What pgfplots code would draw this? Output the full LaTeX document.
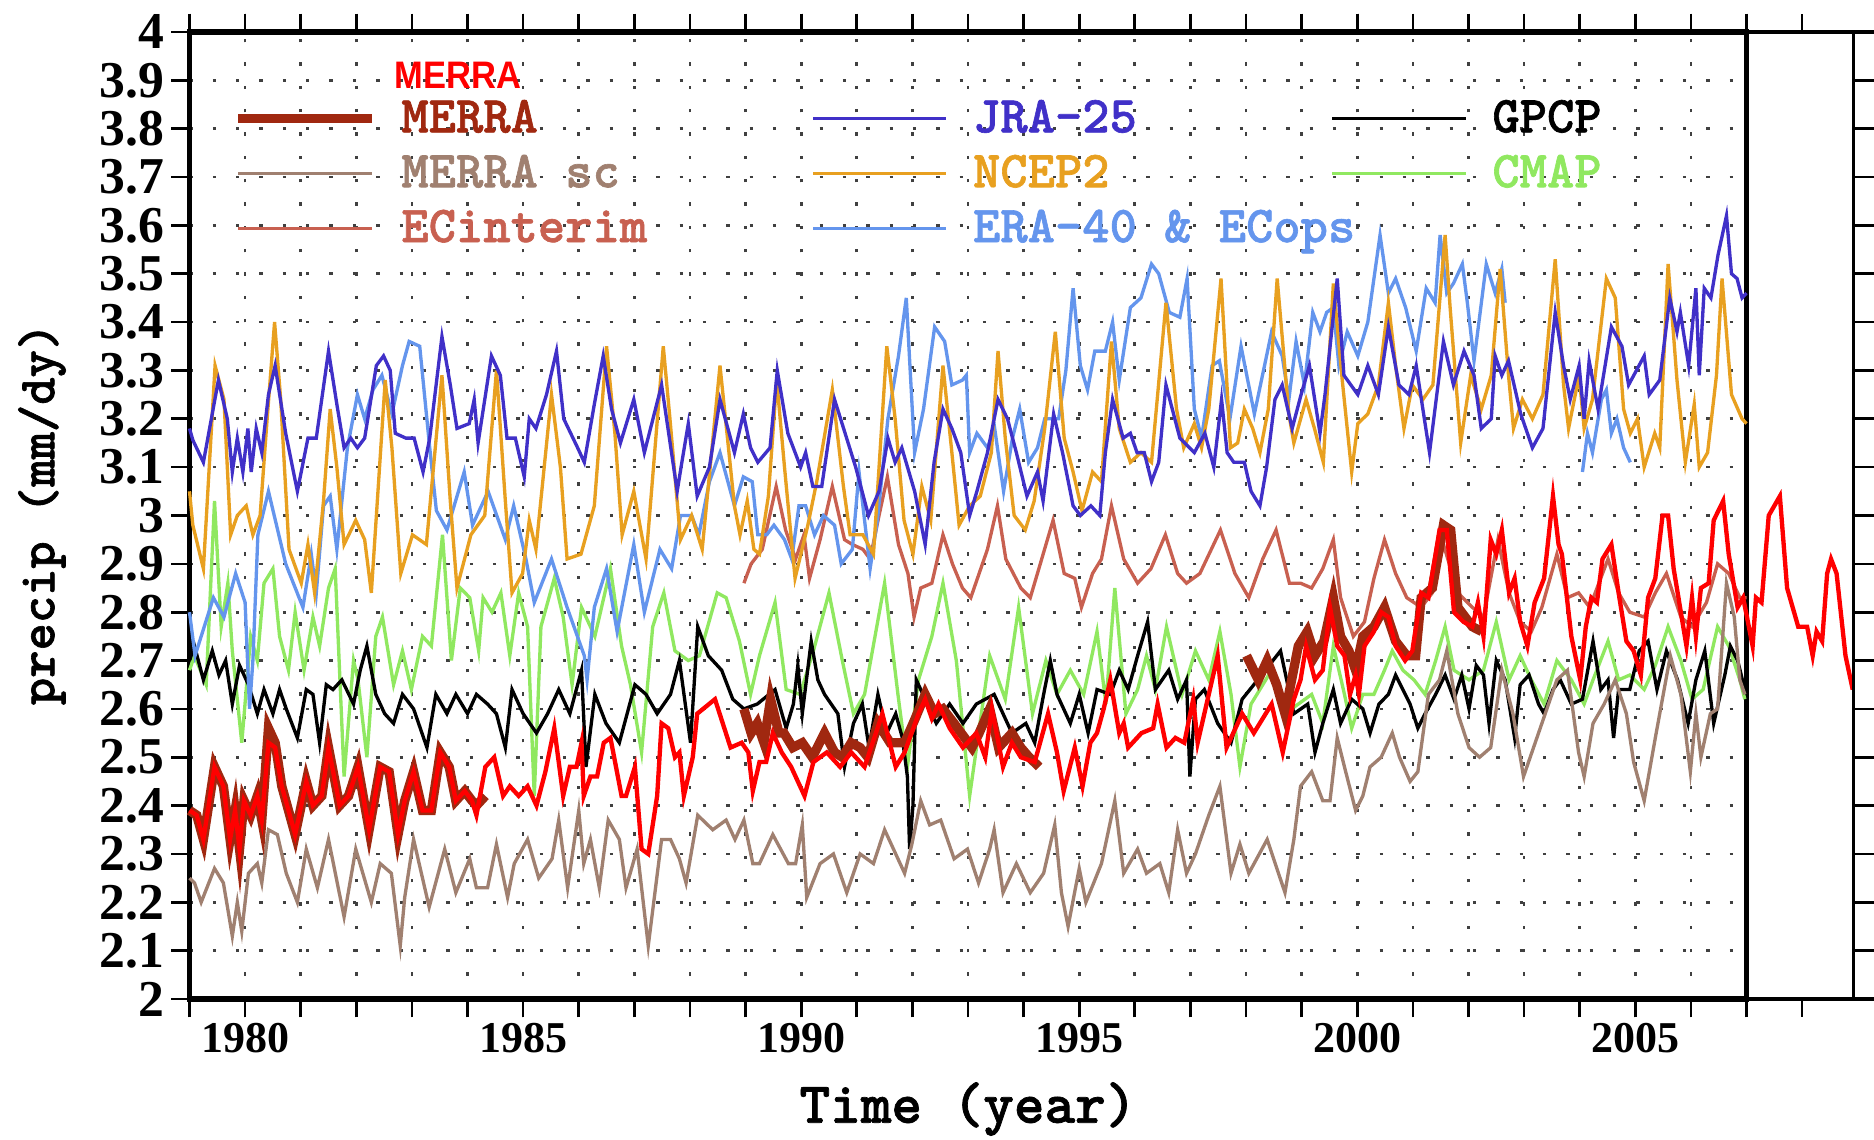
\documentclass[border=0pt]{standalone}
\usepackage{fontspec}
\setmainfont{Liberation Serif}
\newfontfamily\lsans{Liberation Sans}[FakeStretch=0.9]
\newfontfamily\cour[FakeBold=1.2]{lmmonolt10-bold.otf}
\usepackage{pgfplots}
\pgfplotsset{compat=1.18}

\definecolor{merra}{RGB}{160,40,16}
\definecolor{merrasc}{RGB}{160,128,112}
\definecolor{ecint}{RGB}{200,96,80}
\definecolor{jra}{RGB}{64,48,200}
\definecolor{ncep}{RGB}{232,160,32}
\definecolor{era}{RGB}{100,149,237}
\definecolor{cmap}{RGB}{144,232,96}

\newcommand\lgd[3]{\makebox[#1][l]{\textcolor{#2}{#3}}}

\begin{document}
\begin{tikzpicture}
\begin{axis}[
    at={(56.85pt,42.3pt)}, anchor=south west,
    scale only axis, width=467.1pt, height=290.1pt,
    xmin=1979, xmax=2007, ymin=2, ymax=4,
    clip=false,
    axis line style={line width=1.6pt},
    xtick={1980,1985,1990,1995,2000,2005},
    minor xtick={1979,1980,...,2007},
    ytick={2,2.1,2.2,2.3,2.4,2.5,2.6,2.7,2.8,2.9,3,3.1,3.2,3.3,3.4,3.5,3.6,3.7,3.8,3.9,4},
    yticklabels={2,2.1,2.2,2.3,2.4,2.5,2.6,2.7,2.8,2.9,3,3.1,3.2,3.3,3.4,3.5,3.6,3.7,3.8,3.9,4},
    xticklabels={1980,1985,1990,1995,2000,2005},
    xtick pos=both, ytick pos=left,
    tick align=outside,
    major tick length=5.5pt, minor tick length=5.5pt,
    tick style={black, line width=0.8pt},
    xmajorgrids, xminorgrids, ymajorgrids,
    major grid style={black!75, line width=0.8pt, dash pattern=on 1pt off 6pt},
    minor grid style={black!75, line width=0.8pt, dash pattern=on 1pt off 6pt},
    xticklabel style={font=\fontsize{13.2}{14}\selectfont\bfseries, yshift=1.8pt},
    yticklabel style={font=\fontsize{15.5}{16}\selectfont\bfseries, inner ysep=0pt, inner xsep=2pt},
    xlabel={Time (year)}, ylabel={precip (mm/dy)},
    every axis x label/.style={at={(axis description cs:0.5,-0.1138)}, anchor=center,
        font=\cour\fontsize{17.5}{18}\selectfont},
    every axis y label/.style={at={(axis description cs:-0.0947,0.5016)}, rotate=90, anchor=center,
        font=\cour\fontsize{15.6}{16}\selectfont},
    legend columns=3,
    legend image code/.code={\draw[#1] (0pt,0pt) -- (40pt,0pt);},
    legend style={draw=none, fill=none, inner sep=0pt, row sep=5.25pt,
        at={(axis description cs:0.028,0.9304)}, anchor=north west,
        nodes={inner sep=0pt}, cells={anchor=west},
        font=\cour\fontsize{15.6}{16}\selectfont,
        /tikz/every odd column/.append style={column sep=7.5pt}},
]

% legend in the reference's row order
\addlegendimage{merra, line width=2.8pt}
\addlegendentry{\lgd{123pt}{merra}{MERRA}}
\addlegendimage{jra, line width=1pt}
\addlegendentry{\lgd{107.3pt}{jra}{JRA-25}}
\addlegendimage{black, line width=1pt}
\addlegendentry{\lgd{60pt}{black}{GPCP}}
\addlegendimage{merrasc, line width=1pt}
\addlegendentry{\lgd{123pt}{merrasc}{MERRA sc}}
\addlegendimage{ncep, line width=1pt}
\addlegendentry{\lgd{107.3pt}{ncep}{NCEP2}}
\addlegendimage{cmap, line width=1pt}
\addlegendentry{\lgd{60pt}{cmap}{CMAP}}
\addlegendimage{ecint, line width=1pt}
\addlegendentry{\lgd{123pt}{ecint}{ECinterim}}
\addlegendimage{era, line width=1pt}
\addlegendentry{\lgd{107.3pt}{era}{ERA-40 \& ECops}}

% CMAP
\addplot[cmap, line width=1pt, forget plot] coordinates {
(1979.0,2.68) (1979.09,2.71) (1979.3,2.65) (1979.45,3.03) (1979.57,2.77) (1979.69,2.86) (1979.77,2.72) (1979.94,2.53) (1980.1,2.75) (1980.22,2.70) (1980.34,2.86) (1980.5,2.89) (1980.62,2.75) (1980.78,2.68) (1980.9,2.8) (1981.06,2.68) (1981.22,2.79) (1981.34,2.73) (1981.5,2.85) (1981.62,2.89) (1981.78,2.46) (1981.95,2.70) (1982.03,2.66) (1982.19,2.5) (1982.35,2.75) (1982.47,2.79) (1982.67,2.65) (1982.83,2.72) (1982.99,2.64) (1983.19,2.75) (1983.35,2.73) (1983.55,2.96) (1983.71,2.70) (1983.87,2.85) (1984.04,2.83) (1984.2,2.72) (1984.28,2.83) (1984.44,2.8) (1984.6,2.84) (1984.76,2.71) (1984.92,2.84) (1985.08,2.77) (1985.2,2.42) (1985.32,2.77) (1985.56,2.87) (1985.72,2.79) (1985.88,2.65) (1986.05,2.81) (1986.29,2.75) (1986.57,2.89) (1986.77,2.73) (1986.93,2.65) (1987.13,2.51) (1987.33,2.77) (1987.53,2.84) (1987.73,2.72) (1987.97,2.70) (1988.17,2.71) (1988.49,2.84) (1988.65,2.83) (1988.89,2.74) (1989.09,2.63) (1989.25,2.71) (1989.53,2.82) (1989.73,2.64) (1989.98,2.63) (1990.22,2.72) (1990.5,2.84) (1990.74,2.7) (1990.94,2.59) (1991.14,2.63) (1991.5,2.86) (1991.74,2.63) (1991.91,2.48) (1992.11,2.66) (1992.35,2.75) (1992.55,2.86) (1992.79,2.70) (1993.03,2.42) (1993.19,2.55) (1993.39,2.71) (1993.67,2.62) (1993.91,2.81) (1994.16,2.59) (1994.4,2.70) (1994.6,2.63) (1994.84,2.68) (1995.08,2.63) (1995.32,2.76) (1995.48,2.61) (1995.64,2.85) (1995.84,2.59) (1996.05,2.64) (1996.21,2.71) (1996.37,2.64) (1996.57,2.77) (1996.85,2.63) (1997.09,2.72) (1997.33,2.66) (1997.53,2.76) (1997.73,2.63) (1997.89,2.48) (1998.09,2.61) (1998.46,2.68) (1998.7,2.59) (1998.94,2.61) (1999.18,2.63) (1999.38,2.57) (1999.57,2.73) (1999.77,2.63) (1999.9,2.56) (2000.1,2.63) (2000.3,2.63) (2000.49,2.68) (2000.63,2.72) (2000.82,2.68) (2001.02,2.66) (2001.22,2.63) (2001.41,2.70) (2001.58,2.77) (2001.74,2.68) (2002.01,2.66) (2002.27,2.68) (2002.5,2.78) (2002.73,2.66) (2002.93,2.71) (2003.13,2.66) (2003.36,2.61) (2003.59,2.70) (2003.85,2.66) (2004.08,2.61) (2004.24,2.66) (2004.51,2.74) (2004.7,2.66) (2004.9,2.67) (2005.16,2.64) (2005.36,2.69) (2005.59,2.77) (2005.82,2.70) (2006.02,2.62) (2006.22,2.64) (2006.48,2.77) (2006.68,2.73) (2006.88,2.66) (2006.97,2.62)
};

% GPCP
\addplot[black, line width=1pt, forget plot] coordinates {
(1979.0,2.7) (1979.09,2.73) (1979.25,2.66) (1979.41,2.72) (1979.53,2.67) (1979.65,2.70) (1979.77,2.61) (1979.9,2.69) (1980.06,2.65) (1980.22,2.59) (1980.34,2.64) (1980.5,2.59) (1980.62,2.64) (1980.74,2.6) (1980.94,2.54) (1981.1,2.64) (1981.22,2.63) (1981.34,2.53) (1981.46,2.65) (1981.58,2.64) (1981.74,2.66) (1981.95,2.61) (1982.07,2.68) (1982.19,2.73) (1982.35,2.63) (1982.51,2.59) (1982.67,2.57) (1982.83,2.63) (1983.03,2.60) (1983.27,2.52) (1983.43,2.63) (1983.63,2.59) (1983.79,2.63) (1984.0,2.59) (1984.16,2.63) (1984.36,2.61) (1984.52,2.59) (1984.68,2.52) (1984.8,2.64) (1985.0,2.59) (1985.24,2.55) (1985.44,2.59) (1985.64,2.64) (1985.84,2.59) (1986.05,2.68) (1986.13,2.48) (1986.29,2.63) (1986.49,2.57) (1986.73,2.53) (1987.01,2.65) (1987.21,2.63) (1987.41,2.59) (1987.65,2.63) (1987.81,2.70) (1988.01,2.53) (1988.14,2.77) (1988.33,2.71) (1988.57,2.68) (1988.77,2.62) (1988.97,2.6) (1989.21,2.61) (1989.53,2.64) (1989.73,2.56) (1989.86,2.61) (1989.94,2.69) (1990.02,2.59) (1990.18,2.74) (1990.3,2.66) (1990.42,2.63) (1990.66,2.59) (1990.78,2.48) (1990.94,2.57) (1991.1,2.61) (1991.22,2.52) (1991.38,2.63) (1991.54,2.55) (1991.7,2.59) (1991.82,2.54) (1991.91,2.46) (1991.95,2.31) (1992.01,2.40) (1992.07,2.66) (1992.19,2.63) (1992.43,2.57) (1992.67,2.61) (1992.91,2.57) (1993.15,2.61) (1993.47,2.63) (1993.79,2.55) (1994.04,2.57) (1994.2,2.53) (1994.36,2.63) (1994.48,2.70) (1994.6,2.63) (1994.84,2.57) (1995.0,2.63) (1995.16,2.55) (1995.32,2.64) (1995.56,2.63) (1995.72,2.68) (1995.88,2.64) (1996.05,2.71) (1996.23,2.78) (1996.37,2.64) (1996.61,2.68) (1996.77,2.62) (1996.93,2.66) (1996.99,2.46) (1997.09,2.62) (1997.25,2.64) (1997.49,2.57) (1997.73,2.53) (1997.93,2.62) (1998.21,2.66) (1998.62,2.72) (1998.86,2.59) (1999.11,2.61) (1999.24,2.51) (1999.38,2.57) (1999.57,2.64) (1999.7,2.57) (1999.9,2.62) (2000.1,2.6) (2000.23,2.55) (2000.39,2.61) (2000.56,2.63) (2000.69,2.67) (2000.82,2.64) (2000.95,2.61) (2001.09,2.56) (2001.22,2.59) (2001.41,2.63) (2001.58,2.67) (2001.74,2.62) (2001.88,2.67) (2002.01,2.6) (2002.14,2.69) (2002.27,2.67) (2002.37,2.57) (2002.5,2.70) (2002.66,2.66) (2002.83,2.54) (2002.93,2.65) (2003.09,2.67) (2003.26,2.61) (2003.36,2.59) (2003.52,2.64) (2003.65,2.66) (2003.85,2.61) (2004.05,2.62) (2004.24,2.74) (2004.38,2.64) (2004.51,2.66) (2004.61,2.54) (2004.7,2.64) (2004.9,2.64) (2005.07,2.72) (2005.23,2.74) (2005.39,2.64) (2005.56,2.72) (2005.76,2.66) (2005.95,2.57) (2006.09,2.66) (2006.25,2.72) (2006.41,2.57) (2006.61,2.67) (2006.71,2.73) (2006.84,2.70) (2006.97,2.64)
};

% MERRA sc
\addplot[merrasc, line width=1pt, forget plot] coordinates {
(1979.0,2.25) (1979.09,2.24) (1979.21,2.2) (1979.45,2.27) (1979.61,2.24) (1979.77,2.13) (1979.86,2.20) (1979.94,2.14) (1980.06,2.26) (1980.22,2.28) (1980.3,2.24) (1980.42,2.35) (1980.58,2.34) (1980.74,2.26) (1980.94,2.2) (1981.1,2.31) (1981.3,2.23) (1981.5,2.33) (1981.78,2.17) (1981.99,2.31) (1982.27,2.2) (1982.43,2.28) (1982.63,2.26) (1982.79,2.11) (1982.87,2.21) (1983.03,2.33) (1983.31,2.19) (1983.59,2.31) (1983.79,2.22) (1984.04,2.29) (1984.16,2.23) (1984.36,2.23) (1984.52,2.32) (1984.72,2.21) (1984.84,2.28) (1985.08,2.33) (1985.28,2.25) (1985.52,2.29) (1985.64,2.37) (1985.8,2.23) (1986.0,2.39) (1986.09,2.28) (1986.21,2.33) (1986.37,2.23) (1986.53,2.37) (1986.73,2.33) (1986.85,2.23) (1987.05,2.31) (1987.25,2.11) (1987.49,2.33) (1987.65,2.33) (1987.81,2.29) (1987.93,2.24) (1988.14,2.38) (1988.41,2.35) (1988.65,2.37) (1988.81,2.33) (1988.97,2.37) (1989.13,2.28) (1989.25,2.28) (1989.49,2.34) (1989.77,2.28) (1989.9,2.28) (1990.02,2.36) (1990.1,2.21) (1990.34,2.28) (1990.58,2.30) (1990.82,2.22) (1991.06,2.30) (1991.3,2.28) (1991.5,2.35) (1991.7,2.30) (1991.86,2.26) (1991.99,2.32) (1992.15,2.41) (1992.31,2.36) (1992.51,2.37) (1992.75,2.29) (1992.99,2.31) (1993.19,2.24) (1993.39,2.31) (1993.47,2.35) (1993.63,2.22) (1993.87,2.28) (1994.12,2.22) (1994.36,2.26) (1994.56,2.36) (1994.68,2.22) (1994.8,2.15) (1995.0,2.27) (1995.12,2.20) (1995.4,2.28) (1995.64,2.41) (1995.8,2.26) (1996.05,2.31) (1996.21,2.26) (1996.45,2.28) (1996.61,2.22) (1996.77,2.35) (1996.93,2.26) (1997.09,2.30) (1997.33,2.38) (1997.53,2.44) (1997.73,2.26) (1997.89,2.32) (1998.05,2.26) (1998.38,2.33) (1998.7,2.22) (1998.86,2.33) (1998.98,2.44) (1999.18,2.47) (1999.38,2.41) (1999.51,2.41) (1999.64,2.54) (1999.77,2.48) (1999.97,2.39) (2000.1,2.42) (2000.23,2.48) (2000.43,2.50) (2000.63,2.55) (2000.76,2.50) (2000.95,2.45) (2001.09,2.47) (2001.28,2.63) (2001.48,2.66) (2001.61,2.72) (2001.81,2.59) (2002.01,2.52) (2002.2,2.50) (2002.4,2.52) (2002.6,2.68) (2002.8,2.59) (2002.99,2.46) (2003.26,2.55) (2003.59,2.66) (2003.78,2.68) (2003.98,2.51) (2004.08,2.46) (2004.24,2.57) (2004.44,2.61) (2004.64,2.66) (2004.84,2.59) (2004.97,2.49) (2005.16,2.41) (2005.36,2.54) (2005.63,2.71) (2005.82,2.63) (2005.99,2.47) (2006.09,2.59) (2006.18,2.50) (2006.35,2.59) (2006.48,2.60) (2006.64,2.86) (2006.78,2.79) (2006.88,2.66) (2006.97,2.63)
};

% ECinterim
\addplot[ecint, line width=1pt, forget plot] coordinates {
(1988.97,2.86) (1989.1,2.9) (1989.3,2.93) (1989.55,3.06) (1989.72,2.97) (1989.9,2.91) (1990.05,2.96) (1990.15,2.87) (1990.34,2.95) (1990.56,3.06) (1990.78,2.95) (1990.92,2.94) (1991.11,2.93) (1991.24,2.91) (1991.4,3.0) (1991.55,3.08) (1991.75,2.94) (1991.92,2.88) (1992.03,2.79) (1992.15,2.85) (1992.35,2.86) (1992.55,2.96) (1992.72,2.9) (1992.9,2.85) (1993.05,2.83) (1993.35,2.93) (1993.53,3.02) (1993.68,2.91) (1993.95,2.85) (1994.12,2.83) (1994.3,2.9) (1994.53,2.99) (1994.73,2.88) (1994.92,2.87) (1995.04,2.81) (1995.24,2.88) (1995.4,2.91) (1995.58,3.02) (1995.8,2.91) (1996.05,2.86) (1996.29,2.89) (1996.55,2.96) (1996.77,2.88) (1996.93,2.86) (1997.17,2.88) (1997.54,2.97) (1997.8,2.88) (1998.05,2.83) (1998.3,2.91) (1998.54,2.97) (1998.78,2.86) (1998.98,2.86) (1999.18,2.85) (1999.38,2.89) (1999.57,2.95) (1999.7,2.83) (1999.93,2.75) (2000.13,2.78) (2000.3,2.87) (2000.49,2.95) (2000.69,2.88) (2000.89,2.83) (2001.15,2.81) (2001.35,2.84) (2001.55,2.94) (2001.81,2.84) (2002.07,2.81) (2002.27,2.79) (2002.53,2.95) (2002.73,2.84) (2002.93,2.78) (2003.13,2.76) (2003.32,2.81) (2003.59,2.92) (2003.78,2.83) (2003.98,2.84) (2004.18,2.81) (2004.51,2.91) (2004.7,2.84) (2004.9,2.8) (2005.16,2.79) (2005.36,2.84) (2005.56,2.88) (2005.82,2.79) (2006.02,2.77) (2006.28,2.82) (2006.48,2.9) (2006.68,2.88) (2006.88,2.83) (2007.0,2.83)
};

% ERA-40 & ECops (two pieces)
\addplot[era, line width=1pt, forget plot] coordinates {
(1979.0,2.8) (1979.1,2.71) (1979.43,2.83) (1979.62,2.79) (1979.83,2.88) (1980.0,2.82) (1980.08,2.6) (1980.14,2.7) (1980.23,2.96) (1980.42,3.05) (1980.73,2.9) (1981.04,2.81) (1981.19,2.92) (1981.28,2.84) (1981.41,3.02) (1981.53,3.04) (1981.65,2.93) (1981.84,3.14) (1982.02,3.25) (1982.15,3.2) (1982.3,3.26) (1982.46,3.29) (1982.64,3.21) (1982.83,3.31) (1982.95,3.36) (1983.14,3.35) (1983.32,3.14) (1983.44,3.01) (1983.63,2.97) (1983.94,3.09) (1984.09,2.98) (1984.37,3.05) (1984.68,2.95) (1984.83,3.02) (1985.05,2.91) (1985.2,2.82) (1985.51,2.91) (1985.79,2.81) (1986.1,2.71) (1986.15,2.66) (1986.28,2.81) (1986.5,2.89) (1986.69,2.76) (1986.99,2.94) (1987.18,2.8) (1987.46,2.93) (1987.67,2.89) (1987.83,3.0) (1988.03,3.0) (1988.16,2.96) (1988.35,3.07) (1988.54,3.13) (1988.8,3.02) (1988.96,3.08) (1989.12,3.07) (1989.22,2.96) (1989.38,2.96) (1989.51,2.98) (1989.7,2.95) (1989.83,2.91) (1989.96,3.02) (1990.08,3.02) (1990.24,2.96) (1990.4,3.0) (1990.6,2.98) (1990.72,2.9) (1990.92,2.93) (1991.04,3.09) (1991.24,2.89) (1991.37,2.99) (1991.56,3.2) (1991.75,3.33) (1991.89,3.45) (1992.04,3.13) (1992.2,3.22) (1992.4,3.39) (1992.58,3.36) (1992.71,3.27) (1992.9,3.28) (1992.97,3.29) (1993.03,3.13) (1993.16,3.17) (1993.35,3.14) (1993.48,3.18) (1993.64,3.05) (1993.8,3.16) (1993.93,3.22) (1994.09,3.11) (1994.25,3.14) (1994.38,3.2) (1994.63,3.2) (1994.76,3.3) (1994.89,3.47) (1995.02,3.31) (1995.15,3.26) (1995.28,3.34) (1995.47,3.34) (1995.6,3.4) (1995.72,3.28) (1995.92,3.43) (1996.11,3.45) (1996.3,3.52) (1996.43,3.5) (1996.62,3.42) (1996.81,3.41) (1996.94,3.49) (1997.07,3.22) (1997.2,3.16) (1997.39,3.31) (1997.52,3.32) (1997.71,3.2) (1997.91,3.35) (1998.15,3.21) (1998.46,3.38) (1998.65,3.33) (1998.77,3.24) (1998.9,3.36) (1999.05,3.27) (1999.2,3.42) (1999.33,3.38) (1999.45,3.42) (1999.57,3.43) (1999.67,3.31) (1999.82,3.38) (2000.01,3.33) (2000.19,3.4) (2000.41,3.58) (2000.56,3.46) (2000.69,3.49) (2000.87,3.43) (2001.06,3.34) (2001.24,3.47) (2001.4,3.44) (2001.49,3.58) (2001.61,3.46) (2001.73,3.48) (2001.89,3.52) (2001.98,3.44) (2002.1,3.32) (2002.32,3.52) (2002.48,3.46) (2002.6,3.51) (2002.66,3.44)
};
\addplot[era, line width=1pt, forget plot] coordinates {
(2004.05,3.09) (2004.14,3.17) (2004.23,3.13) (2004.39,3.24) (2004.48,3.26) (2004.57,3.17) (2004.67,3.2) (2004.79,3.14) (2004.91,3.11)
};

% NCEP2
\addplot[ncep, line width=1pt, forget plot] coordinates {
(1979.0,3.05) (1979.06,2.98) (1979.25,2.89) (1979.46,3.31) (1979.62,3.24) (1979.74,2.96) (1979.86,3.0) (1980.02,3.02) (1980.14,2.96) (1980.27,3.0) (1980.39,3.19) (1980.53,3.4) (1980.64,3.24) (1980.79,2.93) (1981.01,2.86) (1981.13,2.94) (1981.25,2.84) (1981.41,3.03) (1981.53,3.22) (1981.65,3.1) (1981.78,2.94) (1981.99,2.99) (1982.15,2.95) (1982.27,2.84) (1982.52,3.28) (1982.64,3.14) (1982.8,2.88) (1983.01,2.96) (1983.26,2.94) (1983.54,3.29) (1983.69,3.03) (1983.81,2.85) (1984.06,2.96) (1984.31,3.0) (1984.52,3.3) (1984.68,3.03) (1984.8,2.84) (1984.99,2.88) (1985.11,2.99) (1985.23,2.93) (1985.51,3.25) (1985.67,3.1) (1985.79,2.91) (1986.04,2.92) (1986.28,3.02) (1986.5,3.35) (1986.65,3.17) (1986.78,2.96) (1986.99,3.05) (1987.21,2.91) (1987.52,3.35) (1987.64,3.2) (1987.83,2.95) (1988.03,3.0) (1988.22,2.93) (1988.54,3.31) (1988.8,3.02) (1988.9,2.96) (1989.03,3.03) (1989.15,2.93) (1989.25,2.92) (1989.41,3.04) (1989.56,3.28) (1989.7,3.1) (1989.89,2.87) (1990.12,2.98) (1990.28,3.07) (1990.56,3.26) (1990.76,3.06) (1990.88,2.96) (1991.11,2.96) (1991.3,2.92) (1991.54,3.35) (1991.69,3.2) (1991.85,2.99) (1992.01,2.92) (1992.17,3.06) (1992.33,2.99) (1992.55,3.31) (1992.71,3.13) (1992.84,2.98) (1993.03,3.02) (1993.22,3.04) (1993.42,3.13) (1993.54,3.34) (1993.67,3.16) (1993.83,3.0) (1994.03,2.97) (1994.19,3.03) (1994.38,3.18) (1994.57,3.38) (1994.73,3.16) (1994.89,3.09) (1995.05,3.01) (1995.24,3.09) (1995.4,3.07) (1995.58,3.36) (1995.72,3.18) (1995.92,3.11) (1996.11,3.13) (1996.3,3.11) (1996.56,3.44) (1996.75,3.22) (1996.88,3.14) (1997.07,3.19) (1997.2,3.14) (1997.33,3.22) (1997.55,3.49) (1997.72,3.14) (1997.85,3.15) (1997.97,3.22) (1998.12,3.18) (1998.25,3.13) (1998.4,3.22) (1998.56,3.49) (1998.77,3.21) (1998.86,3.15) (1999.08,3.24) (1999.23,3.18) (1999.39,3.11) (1999.57,3.48) (1999.73,3.28) (1999.9,3.09) (2000.01,3.19) (2000.19,3.21) (2000.38,3.27) (2000.56,3.44) (2000.69,3.31) (2000.84,3.18) (2000.99,3.27) (2001.18,3.24) (2001.36,3.27) (2001.58,3.58) (2001.67,3.43) (2001.86,3.15) (2002.04,3.29) (2002.23,3.22) (2002.41,3.29) (2002.57,3.51) (2002.72,3.29) (2002.81,3.18) (2002.97,3.24) (2003.15,3.2) (2003.34,3.25) (2003.56,3.53) (2003.71,3.27) (2003.8,3.18) (2003.99,3.29) (2004.08,3.18) (2004.23,3.24) (2004.48,3.49) (2004.64,3.45) (2004.79,3.22) (2004.91,3.17) (2005.04,3.2) (2005.16,3.1) (2005.35,3.17) (2005.44,3.14) (2005.59,3.52) (2005.75,3.28) (2005.9,3.11) (2006.06,3.23) (2006.15,3.1) (2006.3,3.13) (2006.46,3.29) (2006.56,3.49) (2006.73,3.25) (2006.92,3.2) (2007.0,3.19)
};

% JRA-25
\addplot[jra, line width=1pt, forget plot] coordinates {
(1979.0,3.18) (1979.06,3.156) (1979.25,3.11) (1979.52,3.28) (1979.68,3.2) (1979.77,3.09) (1979.86,3.16) (1979.96,3.09) (1980.05,3.18) (1980.11,3.09) (1980.2,3.18) (1980.3,3.13) (1980.42,3.25) (1980.54,3.31) (1980.73,3.17) (1980.94,3.05) (1981.13,3.16) (1981.28,3.16) (1981.5,3.34) (1981.65,3.23) (1981.78,3.14) (1981.9,3.16) (1982.02,3.14) (1982.15,3.16) (1982.36,3.31) (1982.49,3.33) (1982.61,3.3) (1982.7,3.17) (1982.89,3.16) (1983.04,3.16) (1983.2,3.09) (1983.32,3.16) (1983.54,3.37) (1983.69,3.27) (1983.81,3.18) (1984.03,3.19) (1984.12,3.24) (1984.19,3.15) (1984.43,3.33) (1984.59,3.29) (1984.71,3.16) (1984.86,3.16) (1985.02,3.08) (1985.11,3.2) (1985.23,3.18) (1985.42,3.25) (1985.6,3.34) (1985.73,3.2) (1985.98,3.14) (1986.1,3.11) (1986.28,3.23) (1986.44,3.33) (1986.59,3.22) (1986.75,3.15) (1986.99,3.24) (1987.18,3.13) (1987.49,3.27) (1987.77,3.05) (1987.84,3.1) (1987.97,3.19) (1988.13,3.04) (1988.35,3.1) (1988.54,3.24) (1988.8,3.13) (1988.96,3.21) (1989.09,3.14) (1989.22,3.11) (1989.44,3.14) (1989.57,3.3) (1989.76,3.17) (1989.99,3.1) (1990.08,3.13) (1990.21,3.06) (1990.37,3.06) (1990.6,3.24) (1990.79,3.17) (1990.98,3.1) (1991.21,3.0) (1991.4,3.05) (1991.56,3.16) (1991.69,3.11) (1991.81,3.14) (1992.04,3.05) (1992.23,2.94) (1992.39,3.11) (1992.55,3.22) (1992.71,3.18) (1992.87,3.13) (1993.03,3.0) (1993.16,3.05) (1993.35,3.13) (1993.54,3.24) (1993.71,3.2) (1993.87,3.13) (1994.06,3.04) (1994.25,3.09) (1994.35,3.03) (1994.54,3.21) (1994.7,3.13) (1994.89,3.02) (1995.02,3.0) (1995.21,3.02) (1995.37,3.0) (1995.47,3.13) (1995.6,3.24) (1995.79,3.16) (1995.92,3.17) (1996.04,3.13) (1996.17,3.13) (1996.3,3.07) (1996.43,3.11) (1996.56,3.27) (1996.81,3.16) (1997.07,3.13) (1997.26,3.17) (1997.42,3.1) (1997.56,3.24) (1997.66,3.13) (1997.78,3.11) (1997.97,3.11) (1998.09,3.05) (1998.25,3.02) (1998.37,3.1) (1998.52,3.24) (1998.65,3.27) (1998.83,3.18) (1998.99,3.25) (1999.14,3.31) (1999.33,3.17) (1999.42,3.25) (1999.64,3.49) (1999.76,3.29) (2000.01,3.25) (2000.19,3.31) (2000.38,3.25) (2000.56,3.39) (2000.75,3.27) (2000.93,3.25) (2001.06,3.31) (2001.3,3.13) (2001.55,3.36) (2001.73,3.27) (2001.92,3.34) (2002.1,3.29) (2002.23,3.18) (2002.41,3.2) (2002.48,3.33) (2002.6,3.29) (2002.72,3.32) (2002.94,3.21) (2003.15,3.14) (2003.34,3.18) (2003.56,3.42) (2003.71,3.31) (2003.83,3.24) (2003.99,3.31) (2004.08,3.2) (2004.17,3.32) (2004.33,3.22) (2004.57,3.39) (2004.76,3.35) (2004.88,3.27) (2005.16,3.33) (2005.25,3.25) (2005.44,3.28) (2005.62,3.45) (2005.75,3.38) (2005.81,3.42) (2005.96,3.31) (2006.09,3.47) (2006.15,3.29) (2006.24,3.47) (2006.36,3.45) (2006.49,3.54) (2006.64,3.62) (2006.73,3.5) (2006.83,3.49) (2006.92,3.45) (2007.0,3.46)
};

% MERRA (thick, three pieces)
\addplot[merra, line width=2.8pt, forget plot] coordinates {
(1979.0,2.39) (1979.13,2.38) (1979.25,2.33) (1979.45,2.48) (1979.61,2.44) (1979.73,2.33) (1979.82,2.39) (1979.9,2.31) (1979.98,2.41) (1980.1,2.38) (1980.22,2.42) (1980.3,2.37) (1980.42,2.56) (1980.54,2.53) (1980.66,2.44) (1980.9,2.34) (1981.1,2.45) (1981.22,2.40) (1981.38,2.42) (1981.5,2.52) (1981.7,2.40) (1981.86,2.42) (1982.03,2.48) (1982.23,2.35) (1982.43,2.48) (1982.59,2.47) (1982.75,2.34) (1982.87,2.41) (1983.03,2.47) (1983.19,2.39) (1983.35,2.39) (1983.51,2.51) (1983.67,2.48) (1983.79,2.41) (1983.95,2.43) (1984.08,2.41) (1984.16,2.40) (1984.32,2.42)
};
\addplot[merra, line width=2.8pt, forget plot] coordinates {
(1988.97,2.60) (1989.1,2.55) (1989.21,2.57) (1989.33,2.53) (1989.45,2.62) (1989.6,2.55) (1989.69,2.55) (1989.85,2.52) (1990.02,2.53) (1990.2,2.50) (1990.42,2.55) (1990.6,2.51) (1990.74,2.50) (1990.9,2.53) (1991.06,2.52) (1991.2,2.50) (1991.38,2.57) (1991.6,2.53) (1991.86,2.53) (1992.05,2.58) (1992.23,2.63) (1992.4,2.59) (1992.55,2.60) (1992.75,2.57) (1993.07,2.52) (1993.2,2.55) (1993.39,2.60) (1993.55,2.52) (1993.79,2.55) (1993.95,2.52) (1994.1,2.50) (1994.28,2.48)
};
\addplot[merra, line width=2.8pt, forget plot] coordinates {
(1998.01,2.71) (1998.22,2.66) (1998.38,2.70) (1998.55,2.65) (1998.7,2.59) (1998.94,2.73) (1999.1,2.76) (1999.24,2.71) (1999.4,2.74) (1999.57,2.83) (1999.7,2.75) (1999.85,2.72) (1999.97,2.68) (2000.1,2.75) (2000.3,2.77) (2000.49,2.81) (2000.69,2.74) (2000.89,2.71) (2001.05,2.71) (2001.15,2.83) (2001.35,2.85) (2001.55,2.98) (2001.68,2.97) (2001.81,2.81) (2002.07,2.77) (2002.24,2.76)
};

% MERRA, bright red, runs past the frame
\addplot[red, line width=1.3pt, forget plot] coordinates {
(1979.0,2.39) (1979.13,2.38) (1979.25,2.33) (1979.45,2.48) (1979.61,2.44) (1979.73,2.33) (1979.82,2.39) (1979.9,2.31) (1979.98,2.41) (1980.1,2.38) (1980.22,2.42) (1980.3,2.37) (1980.42,2.53) (1980.54,2.52) (1980.66,2.44) (1980.9,2.34) (1981.1,2.45) (1981.22,2.40) (1981.38,2.42) (1981.5,2.52) (1981.7,2.40) (1981.86,2.42) (1982.03,2.48) (1982.23,2.35) (1982.43,2.48) (1982.59,2.47) (1982.75,2.34) (1982.87,2.41) (1983.03,2.47) (1983.19,2.39) (1983.35,2.39) (1983.51,2.51) (1983.67,2.48) (1983.79,2.41) (1983.95,2.43) (1984.08,2.41) (1984.16,2.38) (1984.32,2.48) (1984.48,2.50) (1984.64,2.42) (1984.76,2.44) (1984.92,2.42) (1985.08,2.44) (1985.24,2.40) (1985.4,2.47) (1985.56,2.56) (1985.72,2.42) (1985.84,2.48) (1985.96,2.48) (1986.05,2.53) (1986.09,2.42) (1986.21,2.46) (1986.33,2.46) (1986.45,2.53) (1986.57,2.54) (1986.77,2.42) (1986.85,2.42) (1987.01,2.48) (1987.13,2.31) (1987.25,2.30) (1987.41,2.42) (1987.49,2.57) (1987.61,2.56) (1987.73,2.50) (1987.81,2.51) (1987.89,2.42) (1988.05,2.50) (1988.13,2.59) (1988.45,2.62) (1988.73,2.52) (1988.93,2.53) (1989.05,2.51) (1989.13,2.43) (1989.25,2.49) (1989.37,2.49) (1989.49,2.55) (1989.65,2.51) (1989.82,2.48) (1990.06,2.42) (1990.22,2.49) (1990.46,2.51) (1990.7,2.48) (1990.9,2.51) (1991.14,2.48) (1991.46,2.59) (1991.7,2.48) (1991.86,2.51) (1992.11,2.59) (1992.23,2.62) (1992.35,2.58) (1992.47,2.61) (1992.67,2.56) (1992.91,2.52) (1993.15,2.55) (1993.31,2.50) (1993.43,2.60) (1993.63,2.48) (1993.79,2.53) (1993.95,2.50) (1994.2,2.49) (1994.44,2.59) (1994.6,2.51) (1994.72,2.43) (1994.92,2.52) (1995.06,2.44) (1995.2,2.53) (1995.32,2.55) (1995.44,2.60) (1995.56,2.66) (1995.72,2.55) (1995.8,2.57) (1995.88,2.52) (1996.12,2.55) (1996.33,2.56) (1996.41,2.61) (1996.57,2.52) (1996.73,2.54) (1996.89,2.53) (1997.05,2.62) (1997.13,2.53) (1997.49,2.71) (1997.65,2.52) (1997.93,2.59) (1998.14,2.55) (1998.46,2.61) (1998.66,2.51) (1998.86,2.62) (1998.98,2.66) (1999.08,2.73) (1999.24,2.66) (1999.38,2.68) (1999.51,2.81) (1999.64,2.73) (1999.77,2.71) (1999.87,2.63) (1999.97,2.67) (2000.03,2.63) (2000.13,2.73) (2000.3,2.76) (2000.43,2.80) (2000.56,2.79) (2000.69,2.73) (2000.86,2.70) (2000.99,2.72) (2001.15,2.84) (2001.28,2.83) (2001.48,2.97) (2001.61,2.97) (2001.74,2.80) (2001.91,2.78) (2002.07,2.77) (2002.17,2.82) (2002.27,2.75) (2002.4,2.95) (2002.5,2.92) (2002.6,2.97) (2002.73,2.84) (2002.83,2.87) (2002.93,2.78) (2003.06,2.73) (2003.19,2.82) (2003.36,2.87) (2003.52,3.04) (2003.62,2.94) (2003.68,2.92) (2003.85,2.75) (2004.01,2.66) (2004.11,2.77) (2004.21,2.83) (2004.31,2.82) (2004.41,2.91) (2004.57,2.94) (2004.7,2.84) (2004.84,2.74) (2004.97,2.72) (2005.1,2.67) (2005.23,2.83) (2005.36,2.87) (2005.49,3.0) (2005.59,3.0) (2005.69,2.89) (2005.92,2.73) (2006.02,2.83) (2006.09,2.75) (2006.18,2.85) (2006.32,2.86) (2006.41,2.99) (2006.58,3.03) (2006.68,2.92) (2006.84,2.81) (2006.94,2.83) (2007.11,2.73) (2007.17,2.83) (2007.27,2.82) (2007.4,3.0) (2007.6,3.04) (2007.73,2.85) (2007.93,2.77) (2008.09,2.77) (2008.19,2.71) (2008.26,2.76) (2008.36,2.74) (2008.45,2.88) (2008.52,2.91) (2008.62,2.88) (2008.78,2.71) (2008.91,2.64)
};

% red label above the legend
\node[text=red, inner sep=0pt, font=\lsans\bfseries\fontsize{11.5}{12}\selectfont]
    at (axis description cs:0.1724,0.955) {MERRA};

% frame of the panel pasted on the right
\draw[line width=1pt] (axis cs:2007,4) -- (axis cs:2009.29,4);
\draw[line width=1pt] (axis cs:2007,2) -- (axis cs:2009.29,2);
\draw[line width=1pt] (axis cs:2008.92,2) -- (axis cs:2008.92,4);
\draw[line width=0.8pt] (axis cs:2008,4) -- ([yshift=5.5pt]axis cs:2008,4);
\draw[line width=0.8pt] (axis cs:2008,2) -- ([yshift=-5.5pt]axis cs:2008,2);
\pgfplotsinvokeforeach{2.1,2.2,2.3,2.4,2.5,2.6,2.7,2.8,2.9,3.0,3.1,3.2,3.3,3.4,3.5,3.6,3.7,3.8,3.9}{
  \draw[line width=0.8pt] (axis cs:2008.92,#1) -- (axis cs:2009.29,#1);
}
\end{axis}
\pgfresetboundingbox
\path[use as bounding box] (0,0) rectangle (562.2pt,342pt);
\end{tikzpicture}
\end{document}
